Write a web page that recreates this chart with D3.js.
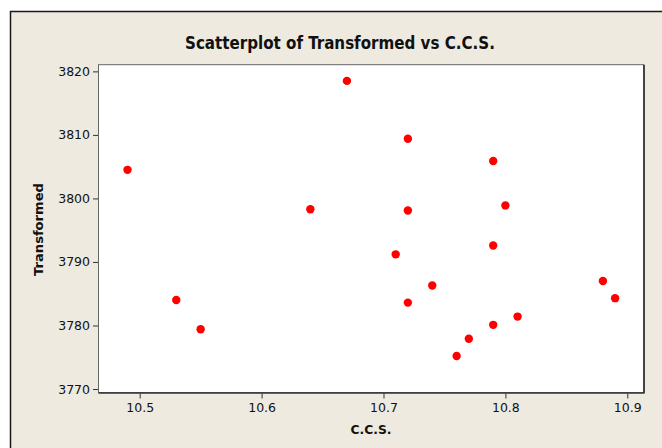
<!DOCTYPE html>
<html>
<head>
<meta charset="utf-8">
<script src="https://cdn.jsdelivr.net/npm/d3@7"></script>
<style>
  html, body { margin: 0; padding: 0; background: #ffffff; }
  svg { display: block; }
  text { font-family: "DejaVu Sans", Verdana, sans-serif; fill: #111; }
</style>
</head>
<body>
<svg id="chart" width="662" height="448"></svg>
<script>
// C.C.S. measurements and their transformed response
const ccs = [10.49, 10.53, 10.55, 10.64, 10.67, 10.71, 10.72, 10.72, 10.72, 10.74,
             10.76, 10.77, 10.79, 10.79, 10.79, 10.80, 10.81, 10.88, 10.89];
const transformed = [3804.5, 3784.0, 3779.4, 3798.3, 3818.5, 3791.2, 3809.4, 3798.1, 3783.6, 3786.3,
                     3775.2, 3777.9, 3805.9, 3792.6, 3780.1, 3798.9, 3781.4, 3787.0, 3784.3];
const xTicks = [10.5, 10.6, 10.7, 10.8, 10.9];
const yTicks = [3770, 3780, 3790, 3800, 3810, 3820];

const svg = d3.select("#chart");
const plot = { left: 98.5, top: 64.7, right: 643.5, bottom: 392.5 };

// outer panel
svg.append("rect")
  .attr("x", 10.5).attr("y", 11.5)
  .attr("width", 700).attr("height", 500)
  .attr("fill", "#eeeae0")
  .attr("stroke", "#1a1a1a").attr("stroke-width", 1.5);

const x = d3.scaleLinear().domain([10.4662, 10.9133]).range([plot.left, plot.right]);
const y = d3.scaleLinear().domain([3769.45, 3821.05]).range([plot.bottom, plot.top]);

// data region
svg.append("rect")
  .attr("x", plot.left).attr("y", plot.top)
  .attr("width", plot.right - plot.left).attr("height", plot.bottom - plot.top)
  .attr("fill", "#ffffff")
  .attr("stroke", "#666").attr("stroke-width", 1);
// heavier right and bottom edges
svg.append("line")
  .attr("x1", plot.right + 0.5).attr("x2", plot.right + 0.5)
  .attr("y1", plot.top).attr("y2", plot.bottom + 0.5)
  .attr("stroke", "#444").attr("stroke-width", 2);
svg.append("line")
  .attr("x1", plot.left).attr("x2", plot.right + 1)
  .attr("y1", plot.bottom + 0.5).attr("y2", plot.bottom + 0.5)
  .attr("stroke", "#333").attr("stroke-width", 1.5);

// axes
const xAxis = svg.append("g")
  .attr("transform", `translate(0,${plot.bottom + 1})`)
  .call(d3.axisBottom(x).tickValues(xTicks).tickFormat(d3.format(".1f")).tickSize(5).tickSizeOuter(0).tickPadding(5));
const yAxis = svg.append("g")
  .attr("transform", `translate(${plot.left - 0.5},0)`)
  .call(d3.axisLeft(y).tickValues(yTicks).tickFormat(d3.format("d")).tickSize(5).tickSizeOuter(0).tickPadding(3));

[xAxis, yAxis].forEach(g => {
  g.select(".domain").remove();
  g.selectAll(".tick line").attr("stroke", "#333");
  g.selectAll(".tick text")
    .attr("fill", "#222")
    .style("font-family", "'DejaVu Sans', Verdana, sans-serif")
    .style("font-size", "12.5px");
});

// points
svg.append("g")
  .selectAll("circle")
  .data(ccs.map((c, i) => ({ c, t: transformed[i] })))
  .join("circle")
  .attr("cx", d => x(d.c))
  .attr("cy", d => y(d.t))
  .attr("r", 4.2)
  .attr("fill", "#ff0000");

// titles
svg.append("text")
  .attr("x", 340).attr("y", 49)
  .attr("text-anchor", "middle")
  .attr("textLength", 310).attr("lengthAdjust", "spacingAndGlyphs")
  .style("font-family", "'DejaVu Sans Condensed', 'DejaVu Sans', sans-serif")
  .style("font-weight", "bold").style("font-size", "17px")
  .text("Scatterplot of Transformed vs C.C.S.");

svg.append("text")
  .attr("x", (plot.left + plot.right) / 2).attr("y", 434)
  .attr("text-anchor", "middle")
  .attr("textLength", 41).attr("lengthAdjust", "spacingAndGlyphs")
  .style("font-weight", "bold").style("font-size", "13px")
  .text("C.C.S.");

svg.append("text")
  .attr("transform", "translate(43,229.5) rotate(-90)")
  .attr("text-anchor", "middle")
  .attr("textLength", 93).attr("lengthAdjust", "spacingAndGlyphs")
  .style("font-weight", "bold").style("font-size", "12.5px")
  .text("Transformed");
</script>
</body>
</html>
